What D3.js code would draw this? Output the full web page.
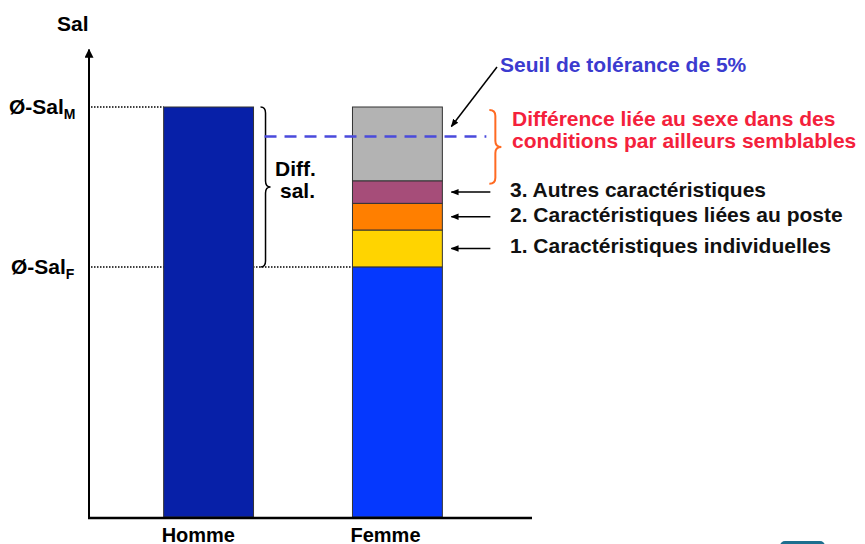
<!DOCTYPE html>
<html>
<head>
<meta charset="utf-8">
<script src="https://cdn.jsdelivr.net/npm/d3@7"></script>
<style>
  body { margin: 0; background: #fff; }
  svg { display: block; font-family: 'Liberation Sans', Arial, sans-serif; font-weight: bold; }
</style>
</head>
<body>
<div id="chart"></div>
<script>
// data
var categories = ['Homme', 'Femme']
var hommeSalary = 100
var femmeParts = ['base', 'individuelles', 'poste', 'autres', 'inexpliquee']
var femmeValues = [61, 9, 6.5, 5.5, 18]
var femmeColors = ['#0538fe', '#ffd400', '#ff7f00', '#a64d79', '#b3b3b3']
var partLabels = ['', '1. Caractéristiques individuelles', '2. Caractéristiques liées au poste', '3. Autres caractéristiques', '']
var toleranceValue = 92.8
var axisTop = 114

var width = 865
var height = 544

var svg = d3.select('#chart')
  .append('svg')
  .attr('width', width)
  .attr('height', height)

// scales
var yPositionScale = d3.scaleLinear().domain([0, 100]).range([517, 107])
var xPositionScale = d3.scaleBand()
  .domain(categories)
  .range([90, 516])
  .paddingInner(0.524)
  .paddingOuter(0.39)

var bw = xPositionScale.bandwidth()

// stacked femme segments
var stacked = []
var acc = 0
femmeValues.forEach(function (v, i) {
  stacked.push({ key: femmeParts[i], y0: acc, y1: acc + v, color: femmeColors[i], label: partLabels[i] })
  acc += v
})
var femmeBase = femmeValues[0]

var defs = svg.append('defs')
defs.append('marker')
  .attr('id', 'arrow')
  .attr('viewBox', '0 0 10 10')
  .attr('refX', 9)
  .attr('refY', 5)
  .attr('markerWidth', 8)
  .attr('markerHeight', 8)
  .attr('markerUnits', 'userSpaceOnUse')
  .attr('orient', 'auto')
  .append('path')
  .attr('d', 'M0,1 L10,5 L0,9 Z')
  .attr('fill', '#000')

defs.append('marker')
  .attr('id', 'axisarrow')
  .attr('viewBox', '0 0 10 10')
  .attr('refX', 9)
  .attr('refY', 5)
  .attr('markerWidth', 9)
  .attr('markerHeight', 9)
  .attr('markerUnits', 'userSpaceOnUse')
  .attr('orient', 'auto')
  .append('path')
  .attr('d', 'M0,0 L10,5 L0,10 Z')
  .attr('fill', '#000')

// dotted reference lines (behind bars)
svg.append('line')
  .attr('x1', 91).attr('x2', xPositionScale('Homme'))
  .attr('y1', yPositionScale(hommeSalary)).attr('y2', yPositionScale(hommeSalary))
  .attr('stroke', '#000').attr('stroke-width', 1.5).attr('stroke-dasharray', '1.5,1.5')

svg.append('line')
  .attr('x1', 91).attr('x2', xPositionScale('Femme'))
  .attr('y1', yPositionScale(femmeBase)).attr('y2', yPositionScale(femmeBase))
  .attr('stroke', '#000').attr('stroke-width', 1.5).attr('stroke-dasharray', '1.5,1.5')

// Homme bar
svg.append('rect')
  .attr('x', xPositionScale('Homme'))
  .attr('width', bw)
  .attr('y', yPositionScale(hommeSalary))
  .attr('height', yPositionScale(0) - yPositionScale(hommeSalary))
  .attr('fill', '#0720a8')
  .attr('stroke', '#333')
  .attr('stroke-width', 1)

// Femme stacked bar
svg.selectAll('.seg')
  .data(stacked)
  .enter()
  .append('rect')
  .attr('class', 'seg')
  .attr('x', xPositionScale('Femme'))
  .attr('width', bw)
  .attr('y', d => yPositionScale(d.y1))
  .attr('height', d => yPositionScale(d.y0) - yPositionScale(d.y1))
  .attr('fill', d => d.color)
  .attr('stroke', '#333')
  .attr('stroke-width', 1)

// axes
svg.append('line')
  .attr('x1', 89).attr('x2', 89)
  .attr('y1', yPositionScale(0) + 1).attr('y2', yPositionScale(axisTop))
  .attr('stroke', '#000').attr('stroke-width', 2)
  .attr('marker-end', 'url(#axisarrow)')

svg.append('line')
  .attr('x1', 88).attr('x2', 532)
  .attr('y1', yPositionScale(0) + 1).attr('y2', yPositionScale(0) + 1)
  .attr('stroke', '#000').attr('stroke-width', 2.5)

// category labels
svg.selectAll('.cat')
  .data(categories)
  .enter()
  .append('text')
  .attr('class', 'cat')
  .attr('x', d => xPositionScale(d) - 2)
  .attr('y', 542)
  .attr('font-size', 20)
  .text(d => d)

// y labels
svg.append('text').attr('x', 57).attr('y', 31).attr('font-size', 21).text('Sal')

var salM = svg.append('text').attr('x', 9).attr('y', yPositionScale(hommeSalary) + 7).attr('font-size', 21)
salM.append('tspan').text('Ø-Sal')
salM.append('tspan').attr('font-size', 14).attr('dy', 5).text('M')

var salF = svg.append('text').attr('x', 11).attr('y', yPositionScale(femmeBase) + 7).attr('font-size', 21)
salF.append('tspan').text('Ø-Sal')
salF.append('tspan').attr('font-size', 14).attr('dy', 5).text('F')

// brace helper (pointing right)
function brace(x, y0, y1, w) {
  var ym = (y0 + y1) / 2
  var xm = x + w / 2
  var r = Math.min(6, (y1 - y0) / 4)
  return 'M' + x + ',' + y0 +
    ' Q' + xm + ',' + y0 + ' ' + xm + ',' + (y0 + r) +
    ' L' + xm + ',' + (ym - r) +
    ' Q' + xm + ',' + ym + ' ' + (x + w) + ',' + ym +
    ' Q' + xm + ',' + ym + ' ' + xm + ',' + (ym + r) +
    ' L' + xm + ',' + (y1 - r) +
    ' Q' + xm + ',' + y1 + ' ' + x + ',' + y1
}

// salary difference brace
var homRight = xPositionScale('Homme') + bw
svg.append('path')
  .attr('d', brace(homRight + 7, yPositionScale(hommeSalary), yPositionScale(femmeBase), 10))
  .attr('fill', 'none').attr('stroke', '#000').attr('stroke-width', 1.5)

var diff = svg.append('text').attr('font-size', 21)
diff.append('tspan').attr('x', 275).attr('y', 176).text('Diff.')
diff.append('tspan').attr('x', 280).attr('y', 198).text('sal.')

// unexplained brace (orange)
var femRight = xPositionScale('Femme') + bw
var unexplained = stacked[stacked.length - 1]
svg.append('path')
  .attr('d', brace(femRight + 47, yPositionScale(unexplained.y1) + 3, yPositionScale(unexplained.y0) + 3, 12))
  .attr('fill', 'none').attr('stroke', '#ff6a22').attr('stroke-width', 2)

var red = svg.append('text').attr('font-size', 21).attr('fill', '#f4213c')
red.append('tspan').attr('x', 512).attr('y', 126).text('Différence liée au sexe dans des')
red.append('tspan').attr('x', 512).attr('y', 148).text('conditions par ailleurs semblables')

// tolerance line
svg.append('line')
  .attr('x1', homRight + 11).attr('x2', femRight + 44)
  .attr('y1', yPositionScale(toleranceValue)).attr('y2', yPositionScale(toleranceValue))
  .attr('stroke', '#4a4adc').attr('stroke-width', 2.5).attr('stroke-dasharray', '12,8')

svg.append('text')
  .attr('x', 500).attr('y', 72)
  .attr('font-size', 21)
  .attr('fill', '#3b3bcf')
  .text('Seuil de tolérance de 5%')

svg.append('line')
  .attr('x1', 497).attr('y1', 67)
  .attr('x2', femRight + 9).attr('y2', yPositionScale(toleranceValue) - 10)
  .attr('stroke', '#000').attr('stroke-width', 1.5)
  .attr('marker-end', 'url(#arrow)')

// factor arrows + labels
var labelled = stacked.filter(d => d.label !== '')
svg.selectAll('.farrow')
  .data(labelled)
  .enter()
  .append('line')
  .attr('class', 'farrow')
  .attr('x1', femRight + 48)
  .attr('x2', femRight + 9)
  .attr('y1', d => yPositionScale((d.y0 + d.y1) / 2))
  .attr('y2', d => yPositionScale((d.y0 + d.y1) / 2))
  .attr('stroke', '#000').attr('stroke-width', 1.5)
  .attr('marker-end', 'url(#arrow)')

svg.selectAll('.flabel')
  .data(labelled)
  .enter()
  .append('text')
  .attr('class', 'flabel')
  .attr('x', 510)
  .attr('y', d => yPositionScale((d.y0 + d.y1) / 2) + 5)
  .attr('font-size', 21)
  .attr('fill', '#111')
  .text(d => d.label)

// small logo fragment at bottom right
svg.append('rect')
  .attr('x', 780).attr('y', 541)
  .attr('width', 45).attr('height', 12)
  .attr('rx', 5)
  .attr('fill', '#1d6f8f')
</script>
</body>
</html>
